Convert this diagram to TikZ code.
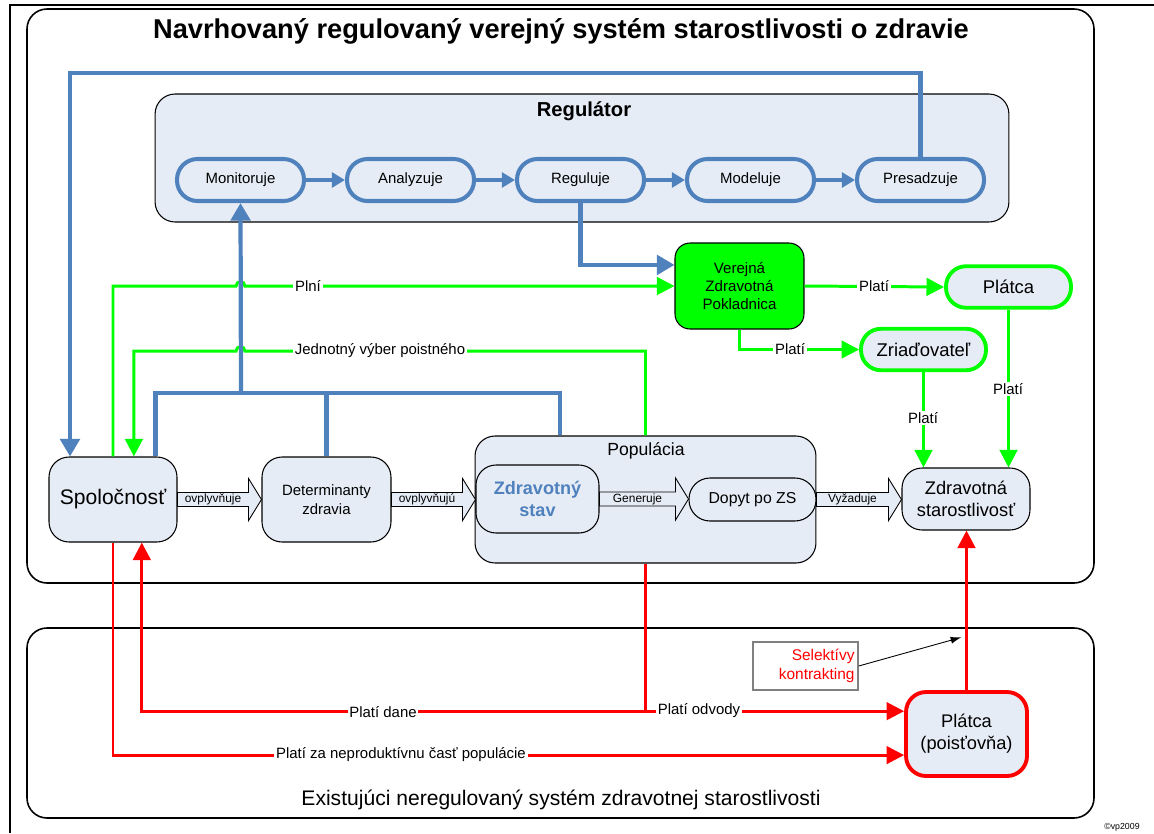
\documentclass[tikz,border=0pt]{standalone}
\usepackage{fontspec}
\setmainfont{Liberation Sans}
\usetikzlibrary{positioning,arrows.meta,calc}

\definecolor{regblue}{RGB}{79,129,189}
\definecolor{boxfill}{RGB}{230,236,246}
\definecolor{vzpgreen}{RGB}{0,255,0}
\definecolor{payred}{RGB}{255,0,0}

% hollow block arrow between two boxes
\newcommand{\fatarrow}[3]{%
  \draw[fatarr] let \p1=(#1.east), \p2=(#2.west) in
    (\x1,\y1+4pt) -- (\x2-7.4pt,\y1+4pt) -- (\x2-7.4pt,\y1+12pt) -- (\x2,\y1)
    -- (\x2-7.4pt,\y1-12pt) -- (\x2-7.4pt,\y1-4pt) -- (\x1,\y1-4pt) -- cycle;
  \path let \p1=(#1.east), \p2=(#2.west) in
    node[arrtext] at ({(\x1+\x2-7.4pt)/2},\y1) {#3};
}

\begin{document}
\begin{tikzpicture}[
        x=0.02cm, y=-0.02cm,
        box/.style={draw, line width=0.6pt, fill=boxfill, rounded corners=0.4cm, align=center, inner sep=2pt},
        pill/.style={rectangle, rounded corners=0.41cm, draw=regblue, line width=2.3pt, fill=boxfill, minimum width=2.54cm, minimum height=0.84cm, font=\fontsize{8.5}{10}\selectfont},
        payer/.style={rectangle, rounded corners=0.4cm, draw=vzpgreen, line width=2.2pt, fill=boxfill, minimum width=2.5cm, minimum height=0.83cm, font=\fontsize{10.5}{12}\selectfont},
        lbl/.style={fill=white, inner sep=1pt, font=\fontsize{8.5}{10}\selectfont},
        arrtext/.style={inner sep=0pt, font=\fontsize{6.8}{8}\selectfont},
        fatarr/.style={draw, line width=0.5pt, fill=boxfill},
        blueline/.style={draw=regblue, line width=2.4pt},
        bluearr/.style={blueline, -{Triangle[length=10pt,width=11pt]}},
        pillarr/.style={draw=regblue, line width=1.8pt, -{Triangle[length=7.5pt,width=8.5pt]}},
        greenarr/.style={draw=vzpgreen, line width=1.7pt, -{Triangle[length=10pt,width=10pt]}},
        redline/.style={draw=payred, line width=1.7pt},
        redarr/.style={redline, -{Triangle[length=10pt,width=10pt]}}
    ]
 \useasboundingbox (0,0) rectangle (1154,833);
 \draw[line width=1.2pt] (10,833) -- (10,5) -- (1154,5);

 % the two systems
 \draw[line width=0.9pt, rounded corners=0.4cm] (27,9) rectangle (1094,583);
 \draw[line width=0.9pt, rounded corners=0.4cm] (27,628) rectangle (1094,818);
 \node[font=\bfseries\fontsize{15.5}{18}\selectfont] (title) at (561,31) {Navrhovaný regulovaný verejný systém starostlivosti o zdravie};
 \node[font=\fontsize{12}{14}\selectfont] (oldsys) at (561,800) {Existujúci neregulovaný systém zdravotnej starostlivosti};
 \node[font=\fontsize{5}{6}\selectfont, inner sep=0pt] (copy) at (1122,827) {©vp2009};

 % regulator
 \node[box, minimum width=17.08cm, minimum height=2.56cm] (rgl) at (582,158) {};
 \node[font=\bfseries\fontsize{11.5}{13}\selectfont] (rgltitle) at (584,111) {Regulátor};
 \node[pill] (mon) at (240.5,180) {Monitoruje};
 \node[pill, right=0.78cm of mon] (ana) {Analyzuje};
 \node[pill, right=0.78cm of ana] (reg) {Reguluje};
 \node[pill, right=0.78cm of reg] (mod) {Modeluje};
 \node[pill, right=0.78cm of mod] (pres) {Presadzuje};
 \foreach \a/\b in {mon/ana, ana/reg, reg/mod, mod/pres}
     \draw[pillarr] (\a) -- (\b);

 % society and population
 \node[box, minimum width=2.56cm, minimum height=1.7cm, font=\fontsize{12}{14}\selectfont] (spol) at (113,499.5) {Spoločnosť};
 \node[box, minimum width=2.58cm, minimum height=1.7cm, font=\fontsize{8.5}{10.5}\selectfont] (det) at (326.5,499.5) {Determinanty\\zdravia};
 \node[box, minimum width=6.82cm, minimum height=2.54cm] (pop) at (645.5,499.5) {};
 \node[font=\fontsize{10}{12}\selectfont] (poptitle) at (646,451) {Populácia};
 \node[box, minimum width=2.46cm, minimum height=1.36cm, text=regblue, font=\bfseries\fontsize{10.3}{12.5}\selectfont] (zst) at (537.5,499) {Zdravotný\\stav};
 \node[box, rounded corners=0.42cm, minimum width=2.54cm, minimum height=0.86cm, font=\fontsize{9}{11}\selectfont] (dop) at (752.5,499.5) {Dopyt po ZS};
 \node[box, minimum width=2.56cm, minimum height=1.24cm, font=\fontsize{10.4}{12.5}\selectfont] (zs) at (966,499) {Zdravotná\\starostlivosť};

 % public fund and payers
 \node[box, fill=vzpgreen, rounded corners=0.3cm, minimum width=2.58cm, minimum height=1.72cm, font=\fontsize{8.6}{10.2}\selectfont] (vzp) at (739.5,286) {Verejná\\Zdravotná\\Pokladnica};
 \node[payer] (plat) at (1008.5,287) {Plátca};
 \node[payer] (zri) at (923.5,349.5) {Zriaďovateľ};
 \node[box, draw=payred, line width=2.2pt, minimum width=2.42cm, minimum height=1.68cm, font=\fontsize{10.4}{12.5}\selectfont] (pois) at (966.5,734) {Plátca\\(poisťovňa)};
 \node[draw=gray, line width=0.8pt, text width=1.96cm, inner sep=2pt, minimum height=0.96cm, align=right, text=payred, font=\fontsize{8.8}{10.5}\selectfont] (sel) at (805.5,666) {Selektívy\\kontrakting};

 % block arrows
 \fatarrow{spol}{det}{ovplyvňuje}
 \fatarrow{det}{zst}{ovplyvňujú}
 \fatarrow{zst}{dop}{Generuje}
 \fatarrow{dop}{zs}{Vyžaduje}

 % green money flows
 \coordinate (jrow) at (0,351);
 \draw[greenarr] (spol.north) |- ($(mon.south |- vzp.west)+(-4.4,0)$)
     arc[start angle=180, end angle=0, radius=2.5pt] -- (vzp.west);
 \draw[greenarr] (pop.north) |- ($(mon.south |- jrow)+(4.4,0)$)
     arc[start angle=0, end angle=180, radius=2.5pt] -| ([xshift=11.9pt]spol.north);
 \draw[greenarr] (vzp.east) -- (plat.west);
 \draw[greenarr] (vzp.south) |- (zri.west);
 \draw[greenarr] (zri.south) -- (zri.south |- zs.north);
 \draw[greenarr] (plat.south) -- (plat.south |- zs.north);

 % blue control flows
 \coordinate (loop) at (70,73);
 \coordinate (hub) at (241,393);
 \draw[bluearr] (pres.north) |- (loop) -- (loop |- spol.north);
 \draw[bluearr] (reg.south) |- ([yshift=12pt]vzp.west);
 \draw[blueline] ([xshift=-12.5pt]spol.north east) |- (hub) -| ([xshift=-48.5pt]pop.north);
 \draw[bluearr] (hub) -- (mon.south);
 \draw[blueline] (det.north |- hub) -- (det.north);

 % red flows of the existing system
 \coordinate (odv) at ([yshift=13pt]pois.west);
 \draw[redarr] (spol.south) |- ([yshift=-12pt]pois.west);
 \draw[redarr] (pop.south) |- (odv);
 \draw[redarr] (pop.south |- odv) -| ([xshift=16.4pt]spol.south);
 \draw[redarr] (pois.north) -- (pois.north |- zs.south);
 \draw[-{Latex[length=6pt,width=4pt]}, line width=0.5pt] (sel.east) -- ([xshift=-3pt,yshift=30pt]pois.north);

 % labels on the flows
 \node[lbl] (plni) at (308,286) {Plní};
 \node[lbl] (jvp) at (380,351) {Jednotný výber poistného};
 \node[lbl] (pl1) at (874,286) {Platí};
 \node[lbl] (pl2) at (790,349) {Platí};
 \node[lbl] (pl3) at (923,418) {Platí};
 \node[lbl] (pl4) at (1008,389) {Platí};
 \node[lbl] (dane) at (383,712) {Platí dane};
 \node[lbl] (odvody) at (699,711) {Platí odvody};
 \node[lbl] (neprod) at (401,755) {Platí za neproduktívnu časť populácie};
\end{tikzpicture}
\end{document}
